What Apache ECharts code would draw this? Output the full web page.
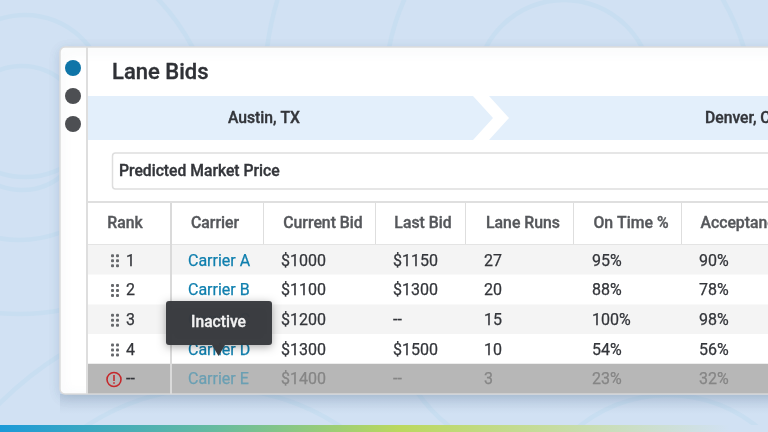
<!DOCTYPE html>
<html><head><meta charset="utf-8">
<style>html,body{margin:0;padding:0;background:#d1e1f3}#c{width:768px;height:432px}</style>
<script src="https://cdn.jsdelivr.net/npm/echarts@6/dist/echarts.min.js"></script>
</head><body><div id="c"></div>
<script>
const title = 'Lane Bids';
const origin = 'Austin, TX';
const destination = 'Denver, CO';
const filterLabel = 'Predicted Market Price';
const tooltipText = 'Inactive';
const headers = ['Rank','Carrier','Current Bid','Last Bid','Lane Runs','On Time %','Acceptance %'];
const ranks = ['1','2','3','4','--'];
const carriers = ['Carrier A','Carrier B','Carrier C','Carrier D','Carrier E'];
const currentBids = ['$1000','$1100','$1200','$1300','$1400'];
const lastBids = ['$1150','$1300','--','$1500','--'];
const laneRuns = ['27','20','15','10','3'];
const onTime = ['95%','88%','100%','54%','23%'];
const acceptance = ['90%','78%','98%','56%','32%'];

const FONT = 'Roboto';
const columns = [ranks, carriers, currentBids, lastBids, laneRuns, onTime, acceptance];
const colTextX = [126, 188, 281, 393, 484, 592, 699];
const headCenterX = [125, 215, 323, 423, 523, 631, 750];
const headDividers = [263, 375, 465, 573, 681];
const INK = '#33353a', LINK = '#0f7fae', HEAD = '#55575b', LINE = '#dedede', ARC = '#c8def1';

const cells = [];
columns.forEach((col, c) => col.forEach((v, r) => cells.push([c, r, v])));
const rowIdx = ranks.map((_, i) => i);

function circle(cx, cy, r) {
  return {type:'circle', shape:{cx, cy, r}, style:{fill:'none', stroke:ARC, lineWidth:4.5}, silent:true, z:0};
}
function curve(x1, y1, cpx1, cpy1, x2, y2) {
  return {type:'bezierCurve', shape:{x1, y1, x2, y2, cpx1, cpy1}, style:{fill:'none', stroke:ARC, lineWidth:4.5}, silent:true, z:0};
}
function txt(x, y, text, size, weight, fill, align) {
  return {type:'text', x, y, z:5, style:{text, fontFamily:FONT, fontSize:size, fontWeight:weight, fill, stroke:fill, lineWidth:0.35, align:align||'left', verticalAlign:'middle'}};
}
function rect(x, y, w, h, fill, z) {
  return {type:'rect', shape:{x, y, width:w, height:h}, style:{fill}, z:z, silent:true};
}

const bgAll = [
  circle(25,96,81), circle(22,128,62), circle(564,88,88),
  circle(213,618,230), circle(668,536,141),
  curve(157,-2,178,20,193,48), curve(278,-2,271,20,267,48),
  curve(405,-2,394,22,389,48), curve(722,-2,736,22,744,48),
  curve(417,392,431,412,449,426),
  curve(-2,238,30,244,62,232), curve(-2,313,30,316,62,310), curve(-2,405,28,375,62,354),
  {type:'rect', shape:{x:60,y:394,width:708,height:20}, z:0.5, silent:true,
   style:{fill:{type:'linear',x:0,y:0,x2:0,y2:1,colorStops:[{offset:0,color:'rgba(120,140,165,0.22)'},{offset:1,color:'rgba(120,140,165,0)'}]}}},
  {type:'rect', shape:{x:0,y:425,width:768,height:7}, z:1, silent:true,
   style:{fill:{type:'linear',x:0,y:0,x2:1,y2:0,colorStops:[
     {offset:0,color:'#1c9ad8'},{offset:0.28,color:'#66bb9f'},{offset:0.52,color:'#bbd85e'},
     {offset:0.72,color:'#c6dca0'},{offset:0.95,color:'#d1e1f3'},{offset:1,color:'#d1e1f3'}]}}}
];
const panel = [
  {type:'rect', shape:{x:60,y:47,width:740,height:347,r:[5,0,0,5]}, z:1, silent:true,
   style:{fill:'#ffffff', stroke:'#dcdcdc', lineWidth:1.5, shadowBlur:12, shadowColor:'rgba(70,100,140,0.2)', shadowOffsetY:3}},
  rect(86,47,2,347,'#dedede',3),
  {type:'circle', shape:{cx:73,cy:68,r:8}, style:{fill:'#0f75a8'}, z:3, silent:true},
  {type:'circle', shape:{cx:73,cy:96,r:8}, style:{fill:'#4d4f53'}, z:3, silent:true},
  {type:'circle', shape:{cx:73,cy:124,r:8}, style:{fill:'#4d4f53'}, z:3, silent:true},
  txt(112,73,title,22,500,'#2f3136'),
  rect(88,96,680,44,'#e3effb',2),
  {type:'polygon', shape:{points:[[473,96],[489,96],[509,118],[489,140],[473,140],[493,118]]}, style:{fill:'#ffffff'}, z:3, silent:true},
  txt(228,119,origin,15.7,500,INK),
  txt(705,119,destination,15.7,500,INK),
  {type:'rect', shape:{x:112.5,y:153,width:700,height:36,r:3}, style:{fill:'#fff',stroke:'#dedede',lineWidth:1.5}, z:3, silent:true},
  txt(119,172.5,filterLabel,15.7,500,INK),
  rect(88,201,680,2,'#dfdfdf',3),
  rect(88,244,680,1,'#e4e4e4',3),
  ...headDividers.map(x => rect(x,203,1,41,LINE,3)),
  rect(170,203,2,191,'#dadada',4)
];
panel.push(...headers.map((h,i) => txt(headCenterX[i],224.5,h,15.8,500,HEAD,'center')));
const tip = [
  {type:'rect', shape:{x:166,y:301,width:106,height:44,r:3}, z:20, silent:true,
   style:{fill:'rgba(56,58,62,0.97)', shadowBlur:8, shadowColor:'rgba(0,0,0,0.35)', shadowOffsetY:2}},
  {type:'polygon', shape:{points:[[212,345],[225,345],[218.5,356]]}, style:{fill:'#3a3c40'}, z:20, silent:true},
  {type:'text', x:218.5, y:323.5, z:21, style:{text:tooltipText, fontFamily:FONT, fontSize:15.6, fontWeight:500, fill:'#f2f2f2', stroke:'#f2f2f2', lineWidth:0.3, align:'center', verticalAlign:'middle'}}
];
const alertIcon = [
  {type:'circle', shape:{cx:114,cy:379.5,r:7}, style:{fill:'none',stroke:'#c5282b',lineWidth:1.6}, z:6, silent:true},
  rect(113.2,375,1.6,6,'#c5282b',6),
  rect(113.2,382.2,1.6,1.6,'#c5282b',6)
];

const chart = echarts.init(document.getElementById('c'), null, {renderer:'canvas'});
chart.setOption({
  animation:false,
  backgroundColor:'#d1e1f3',
  graphic:{elements:[...bgAll,...panel,...alertIcon,...tip]},
  grid:{left:0,right:0,top:245,height:148.5},
  xAxis:{type:'value',min:0,max:768,show:false},
  yAxis:{type:'category',data:rowIdx,inverse:true,show:false},
  series:[
    {type:'custom', z:2, coordinateSystem:'cartesian2d', data:rowIdx.map(i=>[0,i]),
     renderItem(p,api){
       const r=api.value(1), c=api.coord([0,r]), h=api.size([0,1])[1];
       const fill = r===4?'#b7b7b7':(r%2===0?'#f4f4f4':'#ffffff');
       return {type:'rect',shape:{x:88,y:c[1]-h/2,width:680,height:h},style:{fill}};
     }},
    {type:'custom', z:5, coordinateSystem:'cartesian2d', data:rowIdx.slice(0,4).map(i=>[0,i]),
     renderItem(p,api){
       const c=api.coord([0,api.value(1)]), kids=[];
       for(const dx of [111,116]) for(const dy of [-5.5,-0.5,4.5])
         kids.push({type:'rect',shape:{x:dx,y:c[1]+dy,width:3,height:3,r:1},style:{fill:'#66686c'}});
       return {type:'group',children:kids};
     }},
    {type:'custom', z:6, coordinateSystem:'cartesian2d', encode:{x:0,y:1},
     data:cells.map(d=>[colTextX[d[0]],d[1],d[0]]),
     renderItem(p,api){
       const col=api.value(2), r=api.value(1), c=api.coord([api.value(0),r]);
       let fill = col===1?LINK:INK;
       if(r===4) fill = col===1?'#6a9fb3':(col===0?INK:'#858585');
       const text=cells[p.dataIndex][2];
       return {type:'text',x:c[0],y:c[1]+1.8,style:{text,fontFamily:FONT,fontSize:16,fontWeight:400,fill,stroke:fill,lineWidth:0.25,align:'left',verticalAlign:'middle'}};
     }}
  ]
});
</script></body></html>
